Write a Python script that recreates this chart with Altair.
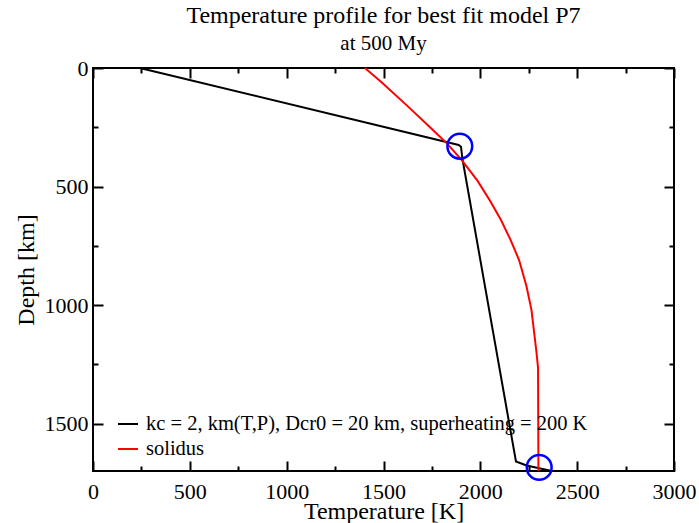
import altair as alt
import pandas as pd

# ---- data ----
series_names = ["kc = 2, km(T,P), Dcr0 = 20 km, superheating = 200 K", "solidus"]
series_colors = ["black", "red"]

black_T = [242, 1888, 1900, 1908, 2184, 2239, 2369]
black_depth = [0, 325, 332, 385, 1660, 1677, 1700]

red_T = [1404, 1490, 1630, 1740, 1830, 1905, 1985, 2050, 2106, 2156, 2200, 2238, 2264, 2290, 2298, 2300]
red_depth = [0, 60, 165, 250, 320, 390, 475, 560, 640, 725, 810, 920, 1020, 1200, 1265, 1700]

circle_T = [1894, 2304]
circle_depth = [330, 1685]

x_major = [0, 500, 1000, 1500, 2000, 2500, 3000]
x_minor = [250, 750, 1250, 1750, 2250, 2750]
y_major = [0, 500, 1000, 1500]
y_minor = [250, 750, 1250]

FONT = "Liberation Serif"

df_black = pd.DataFrame({"T": black_T, "depth": black_depth,
                         "series": series_names[0], "order": list(range(len(black_T)))})
df_red = pd.DataFrame({"T": red_T, "depth": red_depth,
                       "series": series_names[1], "order": list(range(len(red_T)))})
df_circ = pd.DataFrame({"T": circle_T, "depth": circle_depth})

xs = alt.Scale(domain=[0, 3000], nice=False, zero=False)
ys = alt.Scale(domain=[0, 1700], reverse=True, nice=False, zero=False)

color = alt.Color(
    "series:N",
    scale=alt.Scale(domain=series_names, range=series_colors),
    legend=alt.Legend(
        orient="none", legendX=24, legendY=345, title=None,
        symbolType="stroke", symbolStrokeWidth=2, symbolSize=400,
        labelFont=FONT, labelFontSize=20.5, labelColor="black",
        labelOffset=7, rowPadding=3, padding=0, labelLimit=0,
    ),
)


def ax(orient, values, size, labels=False, title=None):
    kw = dict(
        orient=orient, values=values, tickSize=size, offset=-size,
        domain=False, grid=False, tickColor="black", tickWidth=2,
        labels=labels, format="d",
    )
    if labels:
        kw.update(labelFont=FONT, labelFontSize=22, labelColor="black",
                  labelFlush=False, labelOverlap=False, labelBound=False,
                  labelPadding=10 if orient == "bottom" else 5)
    if title:
        kw.update(title=title, titleFont=FONT, titleFontSize=24,
                  titleFontWeight="normal", titleColor="black",
                  titlePadding=-3 if orient == "bottom" else 6)
    else:
        kw.update(title=None)
    return alt.Axis(**kw)


black = alt.Chart(df_black).mark_line(strokeWidth=2).encode(
    x=alt.X("T:Q", scale=xs, axis=ax("bottom", x_major, 10, True, "Temperature [K]")),
    y=alt.Y("depth:Q", scale=ys, axis=ax("left", y_major, 10, True, "Depth [km]")),
    color=color,
    order="order:Q",
)

red = alt.Chart(df_red).mark_line(strokeWidth=2).encode(
    x=alt.X("T:Q", scale=xs, axis=ax("bottom", x_minor, 5)),
    y=alt.Y("depth:Q", scale=ys, axis=ax("left", y_minor, 5)),
    color=color,
    order="order:Q",
)

circles = alt.Chart(df_circ).mark_point(
    shape="circle", filled=False, color="blue", size=615, strokeWidth=2.5, opacity=1
).encode(
    x=alt.X("T:Q", scale=xs, axis=ax("top", x_major, 10)),
    y=alt.Y("depth:Q", scale=ys, axis=ax("right", y_major, 10)),
)

ghost = alt.Chart(df_circ).mark_point(opacity=0).encode(
    x=alt.X("T:Q", scale=xs, axis=ax("top", x_minor, 5)),
    y=alt.Y("depth:Q", scale=ys, axis=ax("right", y_minor, 5)),
)

chart = (
    alt.layer(black, red, circles, ghost)
    .resolve_axis(x="independent", y="independent")
    .properties(
        width=581, height=403,
        autosize=alt.AutoSizeParams(type="none"),
        padding={"left": 93, "top": 68, "right": 25, "bottom": 52},
        background="white",
        title=alt.TitleParams(
            text="Temperature profile for best fit model P7",
            subtitle="at 500 My",
            font=FONT, fontSize=24, fontWeight="normal", color="black",
            subtitleFont=FONT, subtitleFontSize=21, subtitleColor="black",
            anchor="middle", offset=3, subtitlePadding=5,
        ),
    )
    .configure_view(stroke="black", strokeWidth=2)
)

chart.save("out.html", embed_options={"renderer": "svg", "actions": False})
